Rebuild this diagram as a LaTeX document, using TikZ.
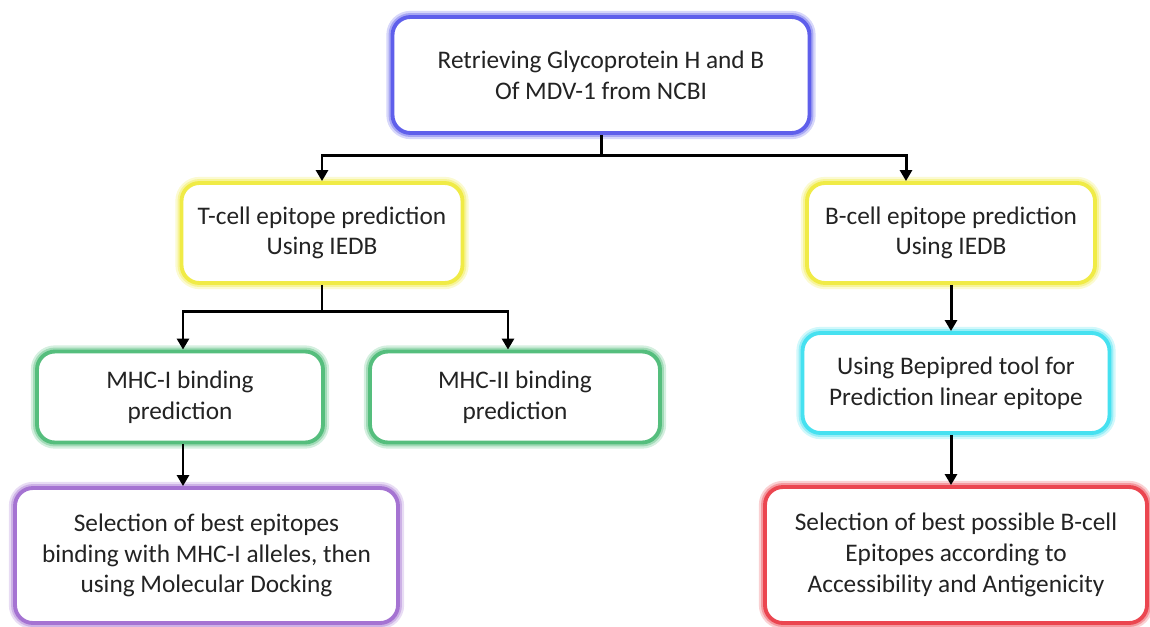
\documentclass[tikz,border=0pt]{standalone}
\usepackage{fontspec}
\setmainfont{Carlito}
\usepackage{tikz}
\usetikzlibrary{arrows.meta}
\definecolor{Blueglow}{RGB}{95,95,235}
\definecolor{Yellowglow}{RGB}{240,235,70}
\definecolor{Greenglow}{RGB}{85,190,125}
\definecolor{Cyanglow}{RGB}{70,225,240}
\definecolor{Purpleglow}{RGB}{165,115,210}
\definecolor{Redglow}{RGB}{235,70,80}
\definecolor{Ink}{RGB}{35,35,35}

\begin{document}
\begin{tikzpicture}[
  box/.style={draw=#1,line width=2.2pt,rounded corners=0.36cm,fill=white,
    preaction={draw=#1!25,line width=7pt,rounded corners=0.36cm},
    preaction={draw=#1!55,line width=4.5pt,rounded corners=0.36cm},
    align=center,inner sep=0pt,text=Ink,font=\fontsize{14.4}{17.5}\selectfont},
  link/.style={line width=1.7pt,-{Triangle[length=0.22cm,width=0.24cm]}},
  stem/.style={line width=1.7pt}
]
\useasboundingbox (0,0) rectangle (23,-12.52);
% Source
\node (src) [box=Blueglow,minimum width=8.34cm,minimum height=2.32cm] at (12.02,-1.5)
  {Retrieving Glycoprotein H and B\\Of MDV-1 from NCBI};
% T-cell branch
\node (tcell) [box=Yellowglow,minimum width=5.62cm,minimum height=2cm] at (6.44,-4.66)
  {T-cell epitope prediction\\Using IEDB};
\node (mhci) [box=Greenglow,minimum width=5.72cm,minimum height=1.82cm] at (3.6,-7.94)
  {MHC-I binding\\prediction};
\node (mhcii) [box=Greenglow,minimum width=5.8cm,minimum height=1.82cm] at (10.3,-7.94)
  {MHC-II binding\\prediction};
\node (dock) [box=Purpleglow,minimum width=7.66cm,minimum height=2.7cm] at (4.13,-11.11)
  {Selection of best epitopes\\binding with MHC-I alleles, then\\using Molecular Docking};
% B-cell branch
\node (bcell) [box=Yellowglow,minimum width=5.76cm,minimum height=2cm] at (19.02,-4.66)
  {B-cell epitope prediction\\Using IEDB};
\node (bepi) [box=Cyanglow,minimum width=6.14cm,minimum height=2cm] at (19.12,-7.66)
  {Using Bepipred tool for\\Prediction linear epitope};
\node (bsel) [box=Redglow,minimum width=7.64cm,minimum height=2.72cm] at (19.12,-11.1)
  {Selection of best possible B-cell\\Epitopes according to\\Accessibility and Antigenicity};
% Connectors
\coordinate (split1) at ([yshift=-0.42cm]src.south);
\coordinate (split2) at ([yshift=-0.54cm]tcell.south);
\draw [stem] (src.south) -- (split1);
\draw [link] (split1) -| (tcell.north);
\draw [link] (split1) -| ([xshift=-0.9cm]bcell.north);
\draw [stem] (tcell.south) -- (split2);
\draw [link] (split2) -| ([xshift=0.06cm]mhci.north);
\draw [link] (split2) -| ([xshift=-0.14cm]mhcii.north);
\draw [link] ([xshift=0.06cm]mhci.south) -- ([xshift=0.06cm]dock.north -| mhci.south);
\draw [link] (bcell.south) -- (bcell.south |- bepi.north);
\draw [link] ([xshift=-0.1cm]bepi.south) -- ([xshift=-0.1cm]bepi.south |- bsel.north);
\end{tikzpicture}
\end{document}
